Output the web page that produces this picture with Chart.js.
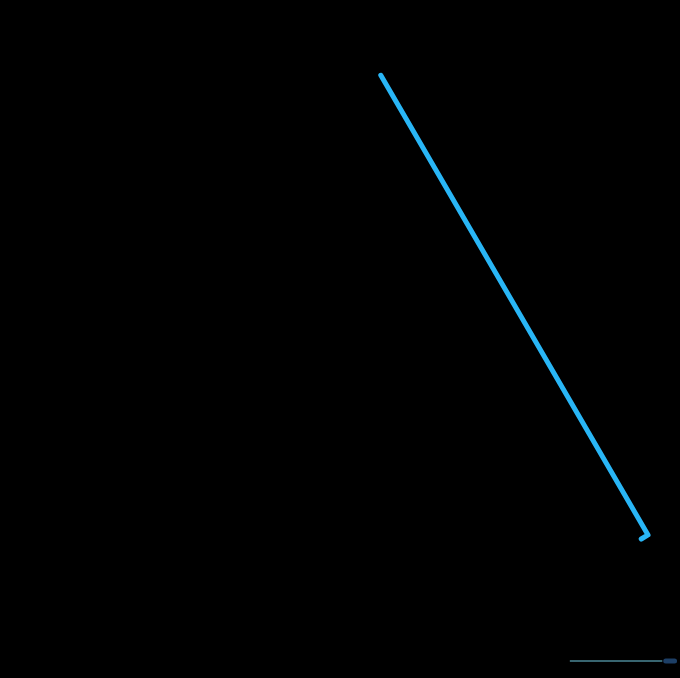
<!DOCTYPE html>
<html>
<head>
<meta charset="utf-8">
<script src="https://cdn.jsdelivr.net/npm/chart.js@4/dist/chart.umd.min.js"></script>
<style>
    html, body { margin: 0; padding: 0; background: #000; }
    #wrap { width: 680px; height: 678px; }
</style>
</head>
<body>
<div id="wrap"><canvas id="lineChart" width="680" height="678"></canvas></div>
<script>
// series values (x, y on a 0-100 scale)
const mainX = [56.0, 95.3, 94.3];
const mainY = [88.9, 21.1, 20.5];

// slider track and handle at the bottom
const trackX = [83.8, 97.4];
const trackY = [2.5, 2.5];
const handleX = [97.9, 99.2];
const handleY = [2.5, 2.5];

function toPoints(xs, ys) {
    return xs.map((x, i) => ({ x: x, y: ys[i] }));
}

const canvas = document.getElementById("lineChart");

new Chart(canvas, {

    type: "line",

    data: {
        datasets: [
            {
                data: toPoints(mainX, mainY),
                borderColor: "#29b6f6",
                borderWidth: 5,
                pointRadius: 0,
                borderJoinStyle: "round",
                borderCapStyle: "round"
            },
            {
                data: toPoints(trackX, trackY),
                borderColor: "#4b8796",
                borderWidth: 1.5,
                pointRadius: 0
            },
            {
                data: toPoints(handleX, handleY),
                borderColor: "#1d3f66",
                borderWidth: 5,
                borderCapStyle: "round",
                pointRadius: 0
            },
            {
                data: toPoints(handleX, handleY),
                borderColor: "#6b9cc4",
                borderWidth: 2,
                pointRadius: 0
            }
        ]
    },

    options: {
        responsive: false,
        animation: false,
        devicePixelRatio: 1,
        layout: { padding: 0 },
        plugins: {
            legend: { display: false },
            tooltip: { enabled: false }
        },
        scales: {
            x: { type: "linear", min: 0, max: 100, display: false },
            y: { type: "linear", min: 0, max: 100, display: false }
        }
    }

});
</script>
</body>
</html>
